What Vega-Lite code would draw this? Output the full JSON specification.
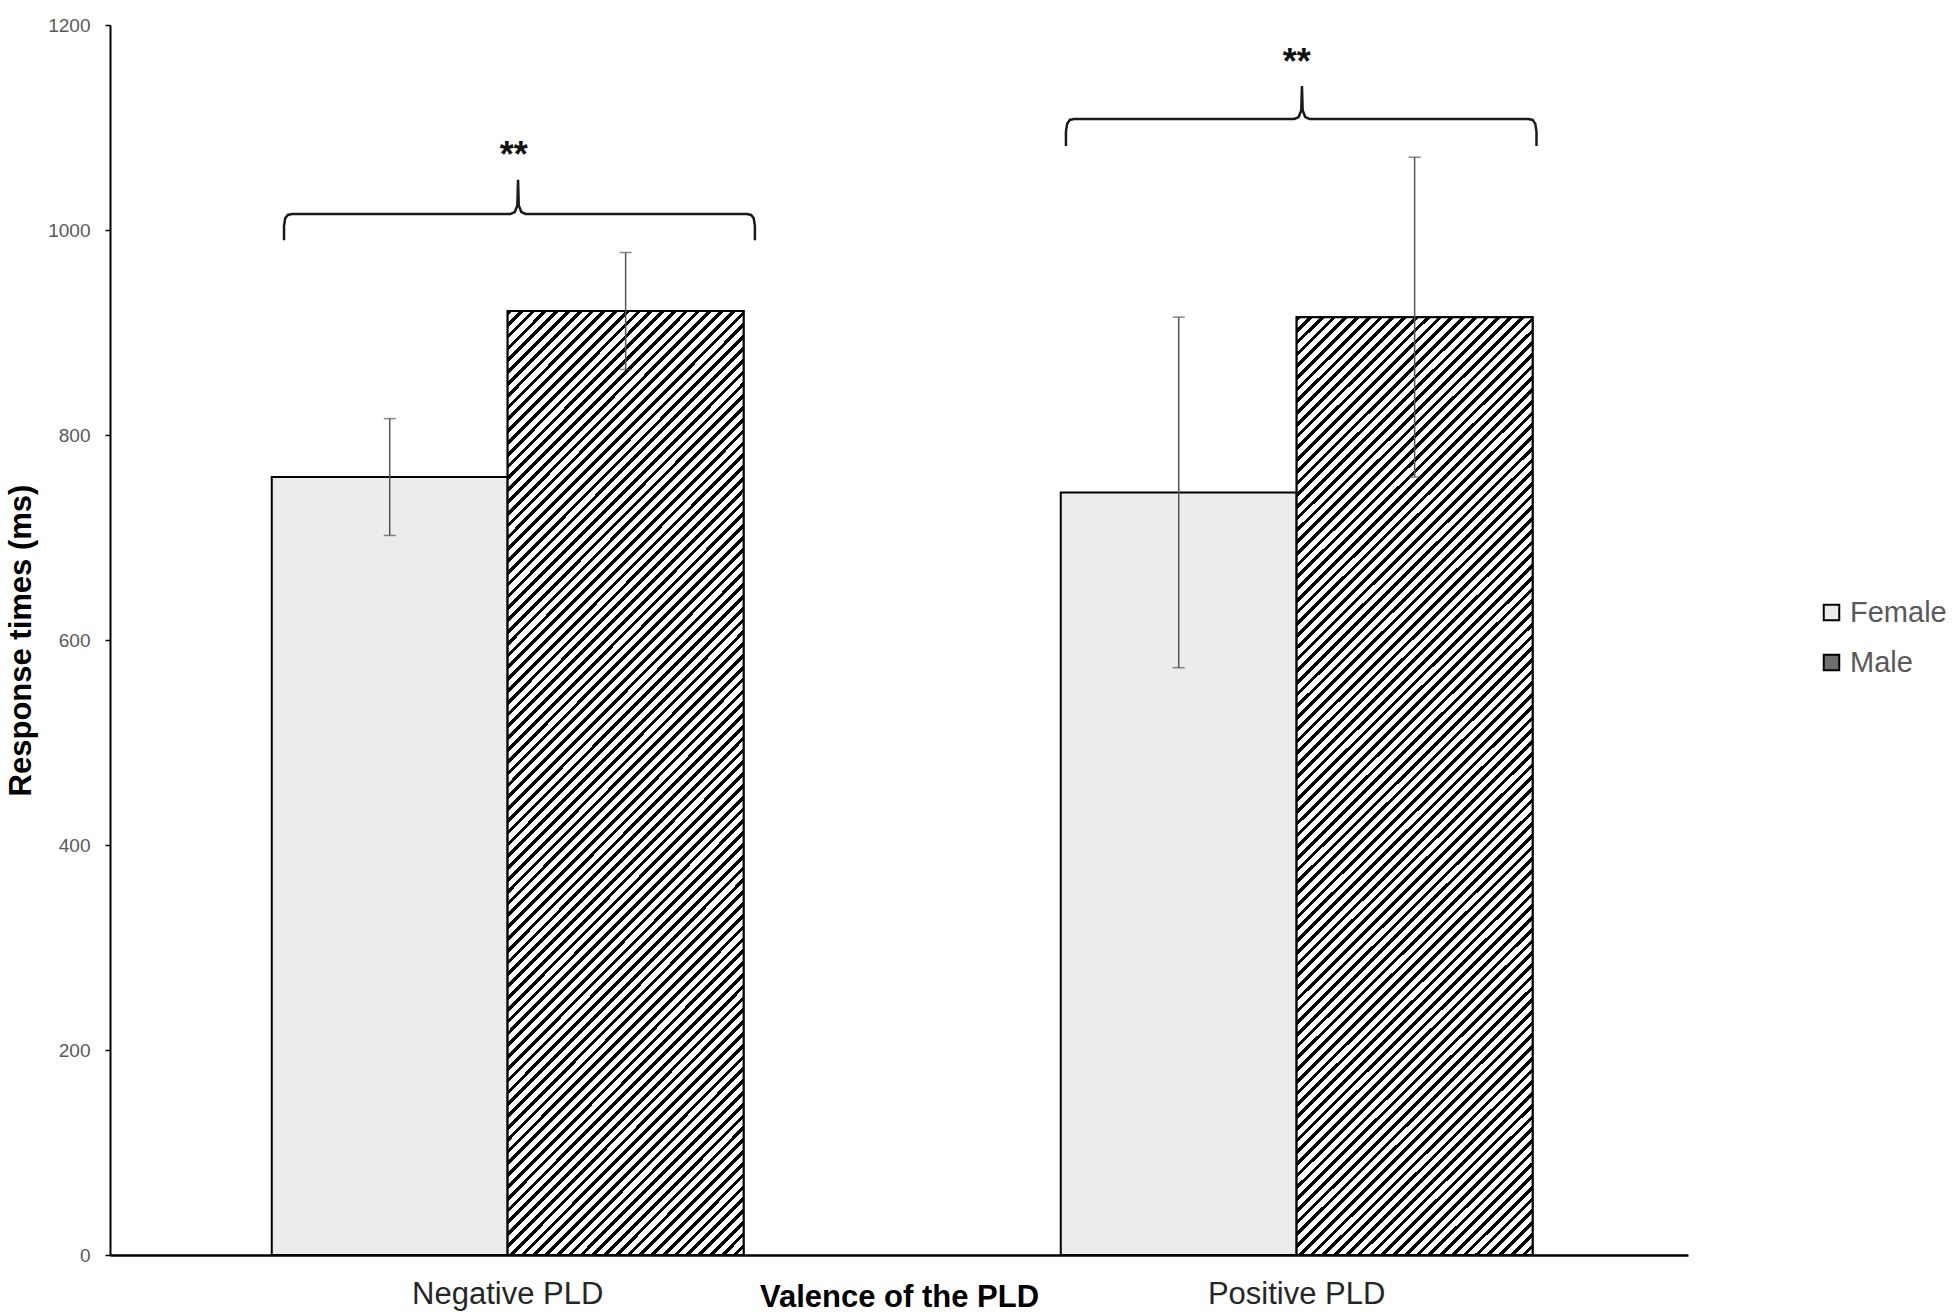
{
  "$schema": "https://vega.github.io/schema/vega-lite/v6.json",
  "width": 1578,
  "height": 1230,
  "autosize": {"type": "none"},
  "padding": {"left": 110, "top": 25, "right": 265, "bottom": 60},
  "background": "white",
  "config": {"view": {"stroke": null}, "font": "Liberation Sans"},
  "datasets": {
    "bars": [
      {"valence": "Negative PLD", "gender": "Female", "rt": 759, "lo": 702, "hi": 816},
      {"valence": "Negative PLD", "gender": "Male", "rt": 921, "lo": 864, "hi": 978},
      {"valence": "Positive PLD", "gender": "Female", "rt": 744, "lo": 573, "hi": 915},
      {"valence": "Positive PLD", "gender": "Male", "rt": 915, "lo": 759, "hi": 1071}
    ],
    "braces": [
      {"valence": "Negative PLD", "i": 1, "pos": 0.026, "y": 990},
      {"valence": "Negative PLD", "i": 2, "pos": 0.026, "y": 1004},
      {"valence": "Negative PLD", "i": 3, "pos": 0.0285, "y": 1011.5},
      {"valence": "Negative PLD", "i": 4, "pos": 0.034, "y": 1014.7},
      {"valence": "Negative PLD", "i": 5, "pos": 0.043, "y": 1015.6},
      {"valence": "Negative PLD", "i": 6, "pos": 0.506, "y": 1015.6},
      {"valence": "Negative PLD", "i": 7, "pos": 0.515, "y": 1017.5},
      {"valence": "Negative PLD", "i": 8, "pos": 0.5205, "y": 1024},
      {"valence": "Negative PLD", "i": 9, "pos": 0.522, "y": 1049},
      {"valence": "Negative PLD", "i": 10, "pos": 0.5235, "y": 1024},
      {"valence": "Negative PLD", "i": 11, "pos": 0.529, "y": 1017.5},
      {"valence": "Negative PLD", "i": 12, "pos": 0.538, "y": 1015.6},
      {"valence": "Negative PLD", "i": 13, "pos": 1.007, "y": 1015.6},
      {"valence": "Negative PLD", "i": 14, "pos": 1.016, "y": 1014.7},
      {"valence": "Negative PLD", "i": 15, "pos": 1.0215, "y": 1011.5},
      {"valence": "Negative PLD", "i": 16, "pos": 1.024, "y": 1004},
      {"valence": "Negative PLD", "i": 17, "pos": 1.024, "y": 990},
      {"valence": "Positive PLD", "i": 1, "pos": 0.011, "y": 1082},
      {"valence": "Positive PLD", "i": 2, "pos": 0.011, "y": 1096},
      {"valence": "Positive PLD", "i": 3, "pos": 0.0135, "y": 1103.5},
      {"valence": "Positive PLD", "i": 4, "pos": 0.019, "y": 1107.4},
      {"valence": "Positive PLD", "i": 5, "pos": 0.028, "y": 1108.3},
      {"valence": "Positive PLD", "i": 6, "pos": 0.4952, "y": 1108.3},
      {"valence": "Positive PLD", "i": 7, "pos": 0.5042, "y": 1110.2},
      {"valence": "Positive PLD", "i": 8, "pos": 0.5097, "y": 1116.7},
      {"valence": "Positive PLD", "i": 9, "pos": 0.5112, "y": 1140.5},
      {"valence": "Positive PLD", "i": 10, "pos": 0.5127, "y": 1116.7},
      {"valence": "Positive PLD", "i": 11, "pos": 0.5182, "y": 1110.2},
      {"valence": "Positive PLD", "i": 12, "pos": 0.5272, "y": 1108.3},
      {"valence": "Positive PLD", "i": 13, "pos": 0.9913, "y": 1108.3},
      {"valence": "Positive PLD", "i": 14, "pos": 1.0003, "y": 1107.4},
      {"valence": "Positive PLD", "i": 15, "pos": 1.0058, "y": 1103.5},
      {"valence": "Positive PLD", "i": 16, "pos": 1.0083, "y": 1096},
      {"valence": "Positive PLD", "i": 17, "pos": 1.0083, "y": 1082}
    ],
    "stars": [
      {"valence": "Negative PLD", "pos": 0.513, "y": 1061, "label": "**"},
      {"valence": "Positive PLD", "pos": 0.5, "y": 1152, "label": "**"}
    ]
  },
  "resolve": {"scale": {"xOffset": "independent"}},
  "layer": [
    {
      "data": {"name": "bars"},
      "mark": {"type": "bar", "stroke": "#000", "strokeWidth": 2},
      "encoding": {
        "x": {
          "field": "valence",
          "type": "nominal",
          "scale": {"domain": ["Negative PLD", "Positive PLD"], "paddingInner": 0.402, "paddingOuter": 0.201, "align": 0.51},
          "axis": {
            "title": "Valence of the PLD",
            "labelAngle": 0,
            "labelLimit": 500,
            "ticks": false,
            "tickSize": 0,
            "domainColor": "#000",
            "domainWidth": 2.5,
            "labelColor": "#262626",
            "labelFontSize": 31,
            "labelPadding": 24,
            "titleFontSize": 31,
            "titleFontWeight": "bold",
            "titleColor": "#000",
            "titleY": 51,
            "titleBaseline": "alphabetic"
          }
        },
        "xOffset": {"field": "gender", "type": "nominal", "scale": {"domain": ["Female", "Male"], "paddingInner": 0, "paddingOuter": 0}},
        "y": {
          "field": "rt",
          "type": "quantitative",
          "scale": {"domain": [0, 1200], "nice": false},
          "axis": {
            "title": "Response times (ms)",
            "values": [0, 200, 400, 600, 800, 1000, 1200],
            "format": "d",
            "grid": false,
            "domainColor": "#000",
            "domainWidth": 2,
            "tickColor": "#000",
            "tickWidth": 1.5,
            "tickSize": 5,
            "labelColor": "#595959",
            "labelFontSize": 19,
            "labelPadding": 15,
            "titleFontSize": 31,
            "titleFontWeight": "bold",
            "titleColor": "#000",
            "titlePadding": 10
          }
        },
        "color": {
          "field": "gender",
          "type": "nominal",
          "scale": {"domain": ["Female", "Male"], "range": ["#ececec", "#6e6e6e"]},
          "legend": {
            "title": null,
            "orient": "none",
            "legendX": 1707,
            "legendY": 573,
            "symbolType": "square",
            "symbolSize": 240,
            "symbolStrokeColor": "#000",
            "symbolStrokeWidth": 2,
            "labelFontSize": 29,
            "labelColor": "#595959",
            "labelOffset": 4,
            "rowPadding": 20
          }
        }
      }
    },
    {
      "data": {"name": "bars"},
      "transform": [{"filter": "datum.gender == 'Male'"}],
      "mark": {
        "type": "bar",
        "stroke": "#000",
        "strokeWidth": 2,
        "fill": {
          "gradient": "linear",
          "x1": 0, "y1": 0, "x2": 0.295, "y2": 1.177,
          "stops": [
            {"offset":0,"color":"#000"},{"offset":0.004,"color":"#000"},{"offset":0.004,"color":"#fff"},{"offset":0.01,"color":"#fff"},
            {"offset":0.01,"color":"#000"},{"offset":0.014,"color":"#000"},{"offset":0.014,"color":"#fff"},{"offset":0.02,"color":"#fff"},
            {"offset":0.02,"color":"#000"},{"offset":0.024,"color":"#000"},{"offset":0.024,"color":"#fff"},{"offset":0.03,"color":"#fff"},
            {"offset":0.03,"color":"#000"},{"offset":0.034,"color":"#000"},{"offset":0.034,"color":"#fff"},{"offset":0.04,"color":"#fff"},
            {"offset":0.04,"color":"#000"},{"offset":0.044,"color":"#000"},{"offset":0.044,"color":"#fff"},{"offset":0.05,"color":"#fff"},
            {"offset":0.05,"color":"#000"},{"offset":0.054,"color":"#000"},{"offset":0.054,"color":"#fff"},{"offset":0.06,"color":"#fff"},
            {"offset":0.06,"color":"#000"},{"offset":0.064,"color":"#000"},{"offset":0.064,"color":"#fff"},{"offset":0.07,"color":"#fff"},
            {"offset":0.07,"color":"#000"},{"offset":0.074,"color":"#000"},{"offset":0.074,"color":"#fff"},{"offset":0.08,"color":"#fff"},
            {"offset":0.08,"color":"#000"},{"offset":0.084,"color":"#000"},{"offset":0.084,"color":"#fff"},{"offset":0.09,"color":"#fff"},
            {"offset":0.09,"color":"#000"},{"offset":0.094,"color":"#000"},{"offset":0.094,"color":"#fff"},{"offset":0.1,"color":"#fff"},
            {"offset":0.1,"color":"#000"},{"offset":0.104,"color":"#000"},{"offset":0.104,"color":"#fff"},{"offset":0.11,"color":"#fff"},
            {"offset":0.11,"color":"#000"},{"offset":0.114,"color":"#000"},{"offset":0.114,"color":"#fff"},{"offset":0.12,"color":"#fff"},
            {"offset":0.12,"color":"#000"},{"offset":0.124,"color":"#000"},{"offset":0.124,"color":"#fff"},{"offset":0.13,"color":"#fff"},
            {"offset":0.13,"color":"#000"},{"offset":0.134,"color":"#000"},{"offset":0.134,"color":"#fff"},{"offset":0.14,"color":"#fff"},
            {"offset":0.14,"color":"#000"},{"offset":0.144,"color":"#000"},{"offset":0.144,"color":"#fff"},{"offset":0.15,"color":"#fff"},
            {"offset":0.15,"color":"#000"},{"offset":0.154,"color":"#000"},{"offset":0.154,"color":"#fff"},{"offset":0.16,"color":"#fff"},
            {"offset":0.16,"color":"#000"},{"offset":0.164,"color":"#000"},{"offset":0.164,"color":"#fff"},{"offset":0.17,"color":"#fff"},
            {"offset":0.17,"color":"#000"},{"offset":0.174,"color":"#000"},{"offset":0.174,"color":"#fff"},{"offset":0.18,"color":"#fff"},
            {"offset":0.18,"color":"#000"},{"offset":0.184,"color":"#000"},{"offset":0.184,"color":"#fff"},{"offset":0.19,"color":"#fff"},
            {"offset":0.19,"color":"#000"},{"offset":0.194,"color":"#000"},{"offset":0.194,"color":"#fff"},{"offset":0.2,"color":"#fff"},
            {"offset":0.2,"color":"#000"},{"offset":0.204,"color":"#000"},{"offset":0.204,"color":"#fff"},{"offset":0.21,"color":"#fff"},
            {"offset":0.21,"color":"#000"},{"offset":0.214,"color":"#000"},{"offset":0.214,"color":"#fff"},{"offset":0.22,"color":"#fff"},
            {"offset":0.22,"color":"#000"},{"offset":0.224,"color":"#000"},{"offset":0.224,"color":"#fff"},{"offset":0.23,"color":"#fff"},
            {"offset":0.23,"color":"#000"},{"offset":0.234,"color":"#000"},{"offset":0.234,"color":"#fff"},{"offset":0.24,"color":"#fff"},
            {"offset":0.24,"color":"#000"},{"offset":0.244,"color":"#000"},{"offset":0.244,"color":"#fff"},{"offset":0.25,"color":"#fff"},
            {"offset":0.25,"color":"#000"},{"offset":0.254,"color":"#000"},{"offset":0.254,"color":"#fff"},{"offset":0.26,"color":"#fff"},
            {"offset":0.26,"color":"#000"},{"offset":0.264,"color":"#000"},{"offset":0.264,"color":"#fff"},{"offset":0.27,"color":"#fff"},
            {"offset":0.27,"color":"#000"},{"offset":0.274,"color":"#000"},{"offset":0.274,"color":"#fff"},{"offset":0.28,"color":"#fff"},
            {"offset":0.28,"color":"#000"},{"offset":0.284,"color":"#000"},{"offset":0.284,"color":"#fff"},{"offset":0.29,"color":"#fff"},
            {"offset":0.29,"color":"#000"},{"offset":0.294,"color":"#000"},{"offset":0.294,"color":"#fff"},{"offset":0.3,"color":"#fff"},
            {"offset":0.3,"color":"#000"},{"offset":0.304,"color":"#000"},{"offset":0.304,"color":"#fff"},{"offset":0.31,"color":"#fff"},
            {"offset":0.31,"color":"#000"},{"offset":0.314,"color":"#000"},{"offset":0.314,"color":"#fff"},{"offset":0.32,"color":"#fff"},
            {"offset":0.32,"color":"#000"},{"offset":0.324,"color":"#000"},{"offset":0.324,"color":"#fff"},{"offset":0.33,"color":"#fff"},
            {"offset":0.33,"color":"#000"},{"offset":0.334,"color":"#000"},{"offset":0.334,"color":"#fff"},{"offset":0.34,"color":"#fff"},
            {"offset":0.34,"color":"#000"},{"offset":0.344,"color":"#000"},{"offset":0.344,"color":"#fff"},{"offset":0.35,"color":"#fff"},
            {"offset":0.35,"color":"#000"},{"offset":0.354,"color":"#000"},{"offset":0.354,"color":"#fff"},{"offset":0.36,"color":"#fff"},
            {"offset":0.36,"color":"#000"},{"offset":0.364,"color":"#000"},{"offset":0.364,"color":"#fff"},{"offset":0.37,"color":"#fff"},
            {"offset":0.37,"color":"#000"},{"offset":0.374,"color":"#000"},{"offset":0.374,"color":"#fff"},{"offset":0.38,"color":"#fff"},
            {"offset":0.38,"color":"#000"},{"offset":0.384,"color":"#000"},{"offset":0.384,"color":"#fff"},{"offset":0.39,"color":"#fff"},
            {"offset":0.39,"color":"#000"},{"offset":0.394,"color":"#000"},{"offset":0.394,"color":"#fff"},{"offset":0.4,"color":"#fff"},
            {"offset":0.4,"color":"#000"},{"offset":0.404,"color":"#000"},{"offset":0.404,"color":"#fff"},{"offset":0.41,"color":"#fff"},
            {"offset":0.41,"color":"#000"},{"offset":0.414,"color":"#000"},{"offset":0.414,"color":"#fff"},{"offset":0.42,"color":"#fff"},
            {"offset":0.42,"color":"#000"},{"offset":0.424,"color":"#000"},{"offset":0.424,"color":"#fff"},{"offset":0.43,"color":"#fff"},
            {"offset":0.43,"color":"#000"},{"offset":0.434,"color":"#000"},{"offset":0.434,"color":"#fff"},{"offset":0.44,"color":"#fff"},
            {"offset":0.44,"color":"#000"},{"offset":0.444,"color":"#000"},{"offset":0.444,"color":"#fff"},{"offset":0.45,"color":"#fff"},
            {"offset":0.45,"color":"#000"},{"offset":0.454,"color":"#000"},{"offset":0.454,"color":"#fff"},{"offset":0.46,"color":"#fff"},
            {"offset":0.46,"color":"#000"},{"offset":0.464,"color":"#000"},{"offset":0.464,"color":"#fff"},{"offset":0.47,"color":"#fff"},
            {"offset":0.47,"color":"#000"},{"offset":0.474,"color":"#000"},{"offset":0.474,"color":"#fff"},{"offset":0.48,"color":"#fff"},
            {"offset":0.48,"color":"#000"},{"offset":0.484,"color":"#000"},{"offset":0.484,"color":"#fff"},{"offset":0.49,"color":"#fff"},
            {"offset":0.49,"color":"#000"},{"offset":0.494,"color":"#000"},{"offset":0.494,"color":"#fff"},{"offset":0.5,"color":"#fff"},
            {"offset":0.5,"color":"#000"},{"offset":0.504,"color":"#000"},{"offset":0.504,"color":"#fff"},{"offset":0.51,"color":"#fff"},
            {"offset":0.51,"color":"#000"},{"offset":0.514,"color":"#000"},{"offset":0.514,"color":"#fff"},{"offset":0.52,"color":"#fff"},
            {"offset":0.52,"color":"#000"},{"offset":0.524,"color":"#000"},{"offset":0.524,"color":"#fff"},{"offset":0.53,"color":"#fff"},
            {"offset":0.53,"color":"#000"},{"offset":0.534,"color":"#000"},{"offset":0.534,"color":"#fff"},{"offset":0.54,"color":"#fff"},
            {"offset":0.54,"color":"#000"},{"offset":0.544,"color":"#000"},{"offset":0.544,"color":"#fff"},{"offset":0.55,"color":"#fff"},
            {"offset":0.55,"color":"#000"},{"offset":0.554,"color":"#000"},{"offset":0.554,"color":"#fff"},{"offset":0.56,"color":"#fff"},
            {"offset":0.56,"color":"#000"},{"offset":0.564,"color":"#000"},{"offset":0.564,"color":"#fff"},{"offset":0.57,"color":"#fff"},
            {"offset":0.57,"color":"#000"},{"offset":0.574,"color":"#000"},{"offset":0.574,"color":"#fff"},{"offset":0.58,"color":"#fff"},
            {"offset":0.58,"color":"#000"},{"offset":0.584,"color":"#000"},{"offset":0.584,"color":"#fff"},{"offset":0.59,"color":"#fff"},
            {"offset":0.59,"color":"#000"},{"offset":0.594,"color":"#000"},{"offset":0.594,"color":"#fff"},{"offset":0.6,"color":"#fff"},
            {"offset":0.6,"color":"#000"},{"offset":0.604,"color":"#000"},{"offset":0.604,"color":"#fff"},{"offset":0.61,"color":"#fff"},
            {"offset":0.61,"color":"#000"},{"offset":0.614,"color":"#000"},{"offset":0.614,"color":"#fff"},{"offset":0.62,"color":"#fff"},
            {"offset":0.62,"color":"#000"},{"offset":0.624,"color":"#000"},{"offset":0.624,"color":"#fff"},{"offset":0.63,"color":"#fff"},
            {"offset":0.63,"color":"#000"},{"offset":0.634,"color":"#000"},{"offset":0.634,"color":"#fff"},{"offset":0.64,"color":"#fff"},
            {"offset":0.64,"color":"#000"},{"offset":0.644,"color":"#000"},{"offset":0.644,"color":"#fff"},{"offset":0.65,"color":"#fff"},
            {"offset":0.65,"color":"#000"},{"offset":0.654,"color":"#000"},{"offset":0.654,"color":"#fff"},{"offset":0.66,"color":"#fff"},
            {"offset":0.66,"color":"#000"},{"offset":0.664,"color":"#000"},{"offset":0.664,"color":"#fff"},{"offset":0.67,"color":"#fff"},
            {"offset":0.67,"color":"#000"},{"offset":0.674,"color":"#000"},{"offset":0.674,"color":"#fff"},{"offset":0.68,"color":"#fff"},
            {"offset":0.68,"color":"#000"},{"offset":0.684,"color":"#000"},{"offset":0.684,"color":"#fff"},{"offset":0.69,"color":"#fff"},
            {"offset":0.69,"color":"#000"},{"offset":0.694,"color":"#000"},{"offset":0.694,"color":"#fff"},{"offset":0.7,"color":"#fff"},
            {"offset":0.7,"color":"#000"},{"offset":0.704,"color":"#000"},{"offset":0.704,"color":"#fff"},{"offset":0.71,"color":"#fff"},
            {"offset":0.71,"color":"#000"},{"offset":0.714,"color":"#000"},{"offset":0.714,"color":"#fff"},{"offset":0.72,"color":"#fff"},
            {"offset":0.72,"color":"#000"},{"offset":0.724,"color":"#000"},{"offset":0.724,"color":"#fff"},{"offset":0.73,"color":"#fff"},
            {"offset":0.73,"color":"#000"},{"offset":0.734,"color":"#000"},{"offset":0.734,"color":"#fff"},{"offset":0.74,"color":"#fff"},
            {"offset":0.74,"color":"#000"},{"offset":0.744,"color":"#000"},{"offset":0.744,"color":"#fff"},{"offset":0.75,"color":"#fff"},
            {"offset":0.75,"color":"#000"},{"offset":0.754,"color":"#000"},{"offset":0.754,"color":"#fff"},{"offset":0.76,"color":"#fff"},
            {"offset":0.76,"color":"#000"},{"offset":0.764,"color":"#000"},{"offset":0.764,"color":"#fff"},{"offset":0.77,"color":"#fff"},
            {"offset":0.77,"color":"#000"},{"offset":0.774,"color":"#000"},{"offset":0.774,"color":"#fff"},{"offset":0.78,"color":"#fff"},
            {"offset":0.78,"color":"#000"},{"offset":0.784,"color":"#000"},{"offset":0.784,"color":"#fff"},{"offset":0.79,"color":"#fff"},
            {"offset":0.79,"color":"#000"},{"offset":0.794,"color":"#000"},{"offset":0.794,"color":"#fff"},{"offset":0.8,"color":"#fff"},
            {"offset":0.8,"color":"#000"},{"offset":0.804,"color":"#000"},{"offset":0.804,"color":"#fff"},{"offset":0.81,"color":"#fff"},
            {"offset":0.81,"color":"#000"},{"offset":0.814,"color":"#000"},{"offset":0.814,"color":"#fff"},{"offset":0.82,"color":"#fff"},
            {"offset":0.82,"color":"#000"},{"offset":0.824,"color":"#000"},{"offset":0.824,"color":"#fff"},{"offset":0.83,"color":"#fff"},
            {"offset":0.83,"color":"#000"},{"offset":0.834,"color":"#000"},{"offset":0.834,"color":"#fff"},{"offset":0.84,"color":"#fff"},
            {"offset":0.84,"color":"#000"},{"offset":0.844,"color":"#000"},{"offset":0.844,"color":"#fff"},{"offset":0.85,"color":"#fff"},
            {"offset":0.85,"color":"#000"},{"offset":0.854,"color":"#000"},{"offset":0.854,"color":"#fff"},{"offset":0.86,"color":"#fff"},
            {"offset":0.86,"color":"#000"},{"offset":0.864,"color":"#000"},{"offset":0.864,"color":"#fff"},{"offset":0.87,"color":"#fff"},
            {"offset":0.87,"color":"#000"},{"offset":0.874,"color":"#000"},{"offset":0.874,"color":"#fff"},{"offset":0.88,"color":"#fff"},
            {"offset":0.88,"color":"#000"},{"offset":0.884,"color":"#000"},{"offset":0.884,"color":"#fff"},{"offset":0.89,"color":"#fff"},
            {"offset":0.89,"color":"#000"},{"offset":0.894,"color":"#000"},{"offset":0.894,"color":"#fff"},{"offset":0.9,"color":"#fff"},
            {"offset":0.9,"color":"#000"},{"offset":0.904,"color":"#000"},{"offset":0.904,"color":"#fff"},{"offset":0.91,"color":"#fff"},
            {"offset":0.91,"color":"#000"},{"offset":0.914,"color":"#000"},{"offset":0.914,"color":"#fff"},{"offset":0.92,"color":"#fff"},
            {"offset":0.92,"color":"#000"},{"offset":0.924,"color":"#000"},{"offset":0.924,"color":"#fff"},{"offset":0.93,"color":"#fff"},
            {"offset":0.93,"color":"#000"},{"offset":0.934,"color":"#000"},{"offset":0.934,"color":"#fff"},{"offset":0.94,"color":"#fff"},
            {"offset":0.94,"color":"#000"},{"offset":0.944,"color":"#000"},{"offset":0.944,"color":"#fff"},{"offset":0.95,"color":"#fff"},
            {"offset":0.95,"color":"#000"},{"offset":0.954,"color":"#000"},{"offset":0.954,"color":"#fff"},{"offset":0.96,"color":"#fff"},
            {"offset":0.96,"color":"#000"},{"offset":0.964,"color":"#000"},{"offset":0.964,"color":"#fff"},{"offset":0.97,"color":"#fff"},
            {"offset":0.97,"color":"#000"},{"offset":0.974,"color":"#000"},{"offset":0.974,"color":"#fff"},{"offset":0.98,"color":"#fff"},
            {"offset":0.98,"color":"#000"},{"offset":0.984,"color":"#000"},{"offset":0.984,"color":"#fff"},{"offset":0.99,"color":"#fff"},
            {"offset":0.99,"color":"#000"},{"offset":0.994,"color":"#000"},{"offset":0.994,"color":"#fff"},{"offset":1,"color":"#fff"}
          ]
        }
      },
      "encoding": {
        "x": {"field": "valence", "type": "nominal"},
        "xOffset": {"field": "gender", "type": "nominal", "scale": {"domain": ["Female", "Male"], "paddingInner": 0, "paddingOuter": 0}},
        "y": {"field": "rt", "type": "quantitative"}
      }
    },
    {
      "data": {"name": "bars"},
      "mark": {"type": "rule", "color": "#555", "strokeWidth": 1.5},
      "encoding": {
        "x": {"field": "valence", "type": "nominal"},
        "xOffset": {"field": "gender", "type": "nominal", "scale": {"domain": ["Female", "Male"], "paddingInner": 0, "paddingOuter": 0}},
        "y": {"field": "lo", "type": "quantitative"},
        "y2": {"field": "hi"}
      }
    },
    {
      "data": {"name": "bars"},
      "mark": {"type": "tick", "color": "#555", "thickness": 1.5, "size": 12, "orient": "horizontal"},
      "encoding": {
        "x": {"field": "valence", "type": "nominal"},
        "xOffset": {"field": "gender", "type": "nominal", "scale": {"domain": ["Female", "Male"], "paddingInner": 0, "paddingOuter": 0}},
        "y": {"field": "lo", "type": "quantitative"}
      }
    },
    {
      "data": {"name": "bars"},
      "mark": {"type": "tick", "color": "#555", "thickness": 1.5, "size": 12, "orient": "horizontal"},
      "encoding": {
        "x": {"field": "valence", "type": "nominal"},
        "xOffset": {"field": "gender", "type": "nominal", "scale": {"domain": ["Female", "Male"], "paddingInner": 0, "paddingOuter": 0}},
        "y": {"field": "hi", "type": "quantitative"}
      }
    },
    {
      "data": {"name": "braces"},
      "mark": {"type": "line", "color": "#1a1a1a", "strokeWidth": 2.5},
      "encoding": {
        "x": {"field": "valence", "type": "nominal"},
        "xOffset": {"field": "pos", "type": "quantitative", "scale": {"domain": [0, 1], "nice": false, "zero": false}},
        "y": {"field": "y", "type": "quantitative"},
        "detail": {"field": "valence"},
        "order": {"field": "i", "type": "quantitative"}
      }
    },
    {
      "data": {"name": "stars"},
      "mark": {"type": "text", "fontSize": 36, "fontWeight": "bold", "baseline": "alphabetic", "align": "center", "color": "#111"},
      "encoding": {
        "x": {"field": "valence", "type": "nominal"},
        "xOffset": {"field": "pos", "type": "quantitative", "scale": {"domain": [0, 1], "nice": false, "zero": false}},
        "y": {"field": "y", "type": "quantitative"},
        "text": {"field": "label"}
      }
    }
  ]
}
